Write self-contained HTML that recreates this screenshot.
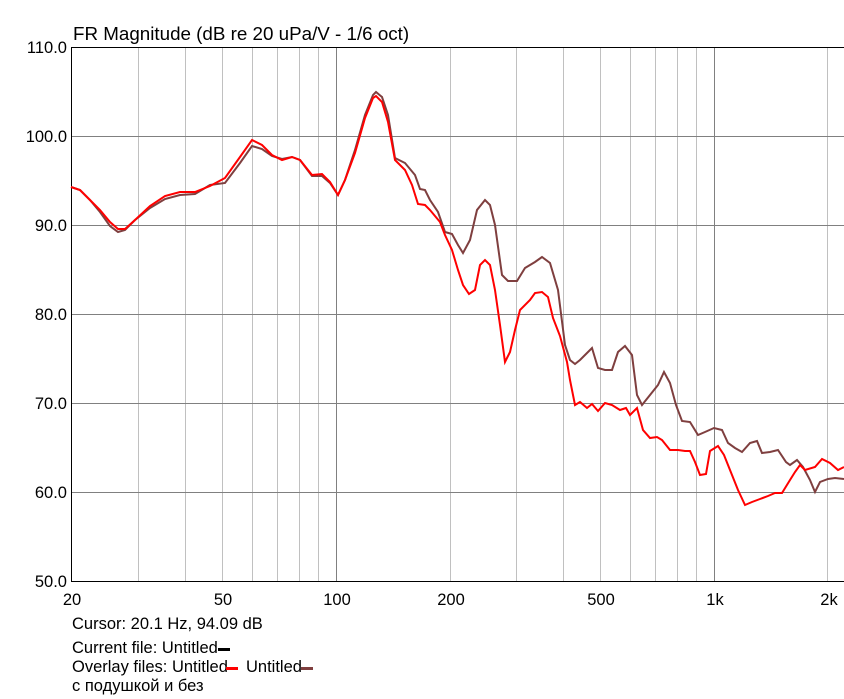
<!DOCTYPE html>
<html><head><meta charset="utf-8"><style>
body{margin:0;background:#fff}
svg{display:block;font-family:"Liberation Sans","Noto Sans CJK SC",sans-serif}
</style></head><body>
<svg width="844" height="699" xmlns="http://www.w3.org/2000/svg">
<rect width="844" height="699" fill="#fff"/>
<g stroke="#c0c0c0" stroke-width="1">
<line x1="138.5" y1="47" x2="138.5" y2="581"/><line x1="185.5" y1="47" x2="185.5" y2="581"/><line x1="222.5" y1="47" x2="222.5" y2="581"/><line x1="252.5" y1="47" x2="252.5" y2="581"/><line x1="277.5" y1="47" x2="277.5" y2="581"/><line x1="299.5" y1="47" x2="299.5" y2="581"/><line x1="318.5" y1="47" x2="318.5" y2="581"/>
<line x1="450.5" y1="47" x2="450.5" y2="581"/><line x1="516.5" y1="47" x2="516.5" y2="581"/><line x1="563.5" y1="47" x2="563.5" y2="581"/><line x1="600.5" y1="47" x2="600.5" y2="581"/><line x1="630.5" y1="47" x2="630.5" y2="581"/><line x1="655.5" y1="47" x2="655.5" y2="581"/><line x1="677.5" y1="47" x2="677.5" y2="581"/><line x1="696.5" y1="47" x2="696.5" y2="581"/><line x1="827.5" y1="47" x2="827.5" y2="581"/>
</g>
<g stroke="#808080" stroke-width="1">
<line x1="336.5" y1="47" x2="336.5" y2="581"/><line x1="714.5" y1="47" x2="714.5" y2="581"/>
<line x1="71" y1="136.5" x2="844" y2="136.5"/><line x1="71" y1="225.5" x2="844" y2="225.5"/><line x1="71" y1="314.5" x2="844" y2="314.5"/><line x1="71" y1="403.5" x2="844" y2="403.5"/><line x1="71" y1="492.5" x2="844" y2="492.5"/>
</g>
<line x1="71" y1="47.5" x2="844" y2="47.5" stroke="#000"/>
<line x1="71.5" y1="47" x2="71.5" y2="582" stroke="#000"/>
<line x1="71" y1="581.5" x2="844" y2="581.5" stroke="#000"/>
<polyline fill="none" stroke="#7f3f3f" stroke-width="2" points="71,187 80,190 90,200 100,212 110,226 118,232 125,230 135,220 150,208 165,199 180,195 195,194 210,185 225,183 240,163 252,146 262,149 272,156 282,159 292,157 300,160 312,176 322,176 330,183 338,195 345,180 355,150 365,115 373,95 376,92 382,97 388,115 395,158 405,163 415,175 420,189 425,190 430,200 438,212 445,232 452,234 458,245 463,253 470,240 477,210 485,200 490,205 495,225 502,275 508,281 517,281 525,268 535,262 542,257 550,263 558,290 565,345 570,360 575,364 580,360 585,355 592,348 598,368 605,370 612,370 618,352 625,346 632,355 637,395 642,405 650,395 658,385 664,372 670,383 676,405 682,421 690,422 698,435 705,432 714,428 722,430 728,443 735,448 742,452 750,443 757,441 762,453 770,452 778,450 786,462 790,465 797,460 803,467 810,480 815,492 820,482 828,479 835,478 844,479"/>
<polyline fill="none" stroke="#ff0000" stroke-width="2" points="71,187 80,190 90,200 100,210 110,222 118,229 125,229 135,220 150,206 165,196 180,192 195,192 210,186 225,178 240,157 252,140 262,145 272,155 282,160 292,157 300,160 312,175 322,174 330,182 338,195 345,180 355,153 365,118 373,98 376,96 382,102 388,122 395,160 405,170 412,185 418,204 425,205 430,210 440,222 445,235 452,250 458,270 463,285 469,294 475,290 480,265 485,260 490,265 495,290 500,325 505,362 510,352 515,330 520,310 530,300 535,293 542,292 548,297 553,318 560,336 567,362 570,380 575,405 580,402 587,408 592,404 598,411 605,403 612,405 620,410 626,408 630,415 637,408 643,430 650,438 657,437 662,440 670,450 678,450 685,451 690,451 695,462 700,475 706,474 710,451 718,446 724,455 730,470 738,490 745,505 752,502 760,499 768,496 775,493 782,493 790,480 795,472 800,465 805,470 815,467 822,459 830,463 838,470 844,467"/>
<g font-size="16.5" fill="#000">
<text x="73" y="40" font-size="18.8">FR Magnitude (dB re 20 uPa/V - 1/6 oct)</text>
<g text-anchor="end">
<text x="67" y="53">110.0</text><text x="67" y="142">100.0</text><text x="67" y="231">90.0</text><text x="67" y="320">80.0</text><text x="67" y="409">70.0</text><text x="67" y="498">60.0</text><text x="67" y="587">50.0</text>
</g>
<g text-anchor="middle">
<text x="72" y="605">20</text><text x="223" y="605">50</text><text x="337" y="605">100</text><text x="451" y="605">200</text><text x="601" y="605">500</text><text x="715" y="605">1k</text><text x="829" y="605">2k</text>
</g>
<g>
<text x="72" y="629">Cursor: 20.1 Hz, 94.09 dB</text>
<text x="72" y="653">Current file: Untitled</text>
<rect x="218" y="648" width="12" height="3" fill="#000"/>
<text x="72" y="672">Overlay files: Untitled</text>
<rect x="226" y="667" width="12" height="3" fill="#ff0000"/>
<text x="246" y="672">Untitled</text>
<rect x="301" y="667" width="12" height="3" fill="#7f3f3f"/>
<text x="72" y="691">с подушкой и без</text>
</g>
</g>
</svg>
</body></html>
